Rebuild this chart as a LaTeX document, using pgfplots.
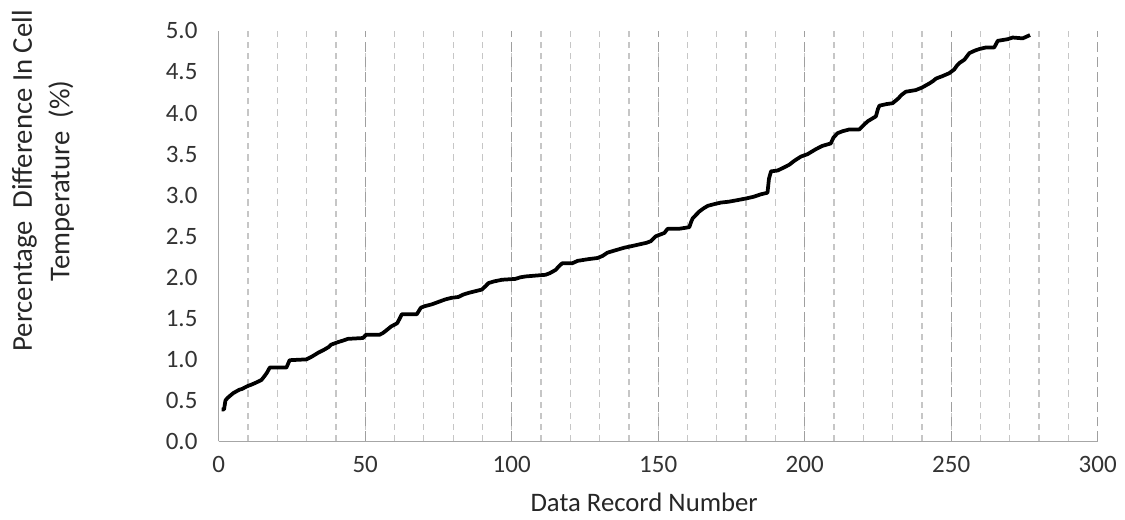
\documentclass[border=0pt]{standalone}
\usepackage{fontspec}
\setmainfont{Carlito}
\usepackage{pgfplots}
\pgfplotsset{compat=1.18}

\begin{document}
\begin{tikzpicture}
\begin{axis}[
  scale only axis, width=352pt, height=164.4pt,
  xmin=0, xmax=300, ymin=0, ymax=5,
  xtick={0,50,...,300}, minor xtick={10,20,...,290},
  ytick={0,0.5,...,5},
  xmajorgrids, xminorgrids,
  major grid style={dash pattern=on 4pt off 2pt, gray!75, line width=0.5pt},
  minor grid style={dash pattern=on 2.5pt off 2pt, gray!45, line width=0.5pt},
  major tick length=0pt, minor tick length=0pt,
  axis x line*=bottom, axis y line*=left,
  axis line style={-, gray!70, line width=0.6pt},
  /pgf/number format/assume math mode=true,
  yticklabel style={/pgf/number format/fixed, /pgf/number format/fixed zerofill, /pgf/number format/precision=1, xshift=-5pt},
  ticklabel style={font=\fontsize{10}{12}\selectfont, text=black!80},
  xticklabel style={yshift=-2.5pt},
  xlabel={Data Record Number},
  xlabel style={font=\fontsize{10.7}{12}\selectfont, text=black!85, at={(axis description cs:0.484,-0.148)}, anchor=center},
  ylabel={Percentage\ \ Difference In Cell\\Temperature\ \ (\%)},
  ylabel style={font=\fontsize{11.5}{15}\selectfont, text=black!85, align=center, at={(axis description cs:-0.2,0.635)}, anchor=center},
]
\addplot[black, line width=1.5pt, line join=round] coordinates {
(1,0.39)(1.8,0.39)(2.3,0.50)(3,0.53)(4.3,0.57)(5,0.59)(6,0.61)(7,0.63)(8,0.64)(9,0.66)
(10.2,0.68)(11,0.69)(12.3,0.71)(13.5,0.73)(14.6,0.75)(15.7,0.80)(16.5,0.84)(17.4,0.90)
(23.1,0.90)(24.2,0.99)(29.9,1.00)(31.6,1.03)(33,1.06)(33.9,1.08)(36.1,1.12)(37.5,1.15)
(38.4,1.18)(40.7,1.21)(42.5,1.23)(44.1,1.25)(49.2,1.26)(50.3,1.30)(54.9,1.30)(56,1.32)
(57.1,1.35)(58.8,1.40)(60.9,1.44)(61.8,1.50)(62.5,1.55)(67.6,1.55)(69.0,1.63)(70.5,1.65)
(72.7,1.67)(75,1.70)(77.3,1.73)(79.5,1.75)(81.8,1.76)(83.5,1.79)(85.3,1.81)(87.5,1.83)
(89.8,1.85)(91,1.89)(92.1,1.93)(94,1.95)(96.7,1.97)(101.2,1.98)(103,2.00)(104.7,2.01)
(108,2.02)(111.5,2.03)(113,2.05)(115,2.09)(116,2.13)(117.2,2.17)(120.6,2.17)(122.5,2.20)
(126,2.22)(129.3,2.235)(131,2.26)(132.7,2.30)(135.5,2.33)(138.4,2.36)(141,2.38)(144.1,2.405)
(146,2.42)(147.5,2.44)(149.2,2.50)(152.1,2.54)(153.2,2.59)(157,2.59)(160.6,2.61)(161.3,2.68)
(161.8,2.72)(164,2.80)(165.5,2.84)(166.9,2.87)(169,2.89)(171.4,2.91)(174,2.92)(177.1,2.94)
(180,2.96)(182.5,2.98)(185,3.01)(187.3,3.03)(187.8,3.20)(188.5,3.29)(190.7,3.30)(192.5,3.33)
(194.7,3.37)(196.5,3.42)(198.7,3.47)(201,3.50)(203.8,3.56)(206,3.60)(208.9,3.63)(209.8,3.70)
(211.2,3.755)(213,3.78)(215.2,3.80)(218.6,3.80)(220,3.85)(221.5,3.90)(224.3,3.96)(225,4.05)
(225.5,4.09)(228,4.11)(230,4.12)(232,4.18)(233,4.22)(234.5,4.26)(237.9,4.28)(240,4.31)
(242.5,4.36)(243.8,4.39)(244.8,4.42)(247,4.45)(249.3,4.485)(251,4.53)(252,4.58)(252.8,4.61)
(254.5,4.65)(256.2,4.73)(258,4.76)(259.6,4.78)(262,4.80)(264.7,4.80)(265.9,4.88)(269.3,4.90)
(271,4.92)(274.4,4.91)(276.9,4.95)
};
\end{axis}
\useasboundingbox (current axis.south west) ++(-87.6pt,-28.8pt) rectangle ([xshift=10.4pt,yshift=12.4pt]current axis.north east);
\end{tikzpicture}
\end{document}
